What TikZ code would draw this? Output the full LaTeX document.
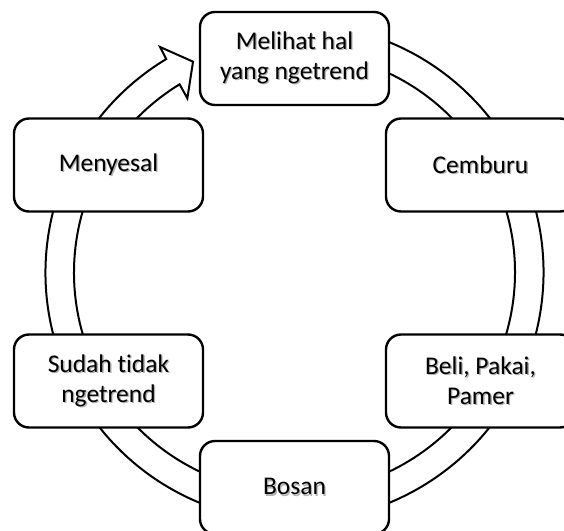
\documentclass[tikz,border=0pt]{standalone}
\usepackage{fontspec}
\setmainfont{Carlito}[Ligatures={NoCommon}]
\newcommand\shd[1]{\makebox[0pt][l]{\hspace{1.3pt}\raisebox{-1.3pt}{\color{black!30}#1}}#1}
\begin{document}
\begin{tikzpicture}[x=1pt,y=1pt,
  stage/.style={draw=black, line width=2.4pt, fill=white, rounded corners=15pt,
    minimum width=189pt, minimum height=93pt, align=center,
    font=\fontsize{25.5}{30}\selectfont, inner sep=0pt},
  ring/.style={draw=black, line width=2pt, fill=white, line join=miter}]
\useasboundingbox (0,0) rectangle (564,530);
\clip (0,0) rectangle (564,530);
\fill[white] (0,0) rectangle (564,530);
\coordinate (C) at (294.5,257.5);
% circular arrow
\begin{scope}[shift={(C)}]
  \draw[ring] (80:249) arc[start angle=80, end angle=-239, radius=249]
     -- (-239.2:262.5) -- (-244.3:234) -- (-238.4:204.5) -- (-238.6:220.5)
     arc[start angle=-238.6, end angle=80, radius=220.5] -- cycle;
\end{scope}
% stages
\node[stage] (melihat) at (294.5,471.5) {\shd{Melihat hal}\\\shd{yang ngetrend}};
\node[stage] (cemburu) at (480.5,365) {\shd{Cemburu}};
\node[stage] (beli) at (480.5,149) {\shd{Beli, Pakai,}\\\shd{Pamer}};
\node[stage] (bosan) at (294.5,42.5) {\shd{Bosan}};
\node[stage] (sudah) at (108.5,149) {\shd{Sudah tidak}\\\shd{ngetrend}};
\node[stage] (menyesal) at (108.5,365) {\shd{Menyesal}};
\end{tikzpicture}
\end{document}
